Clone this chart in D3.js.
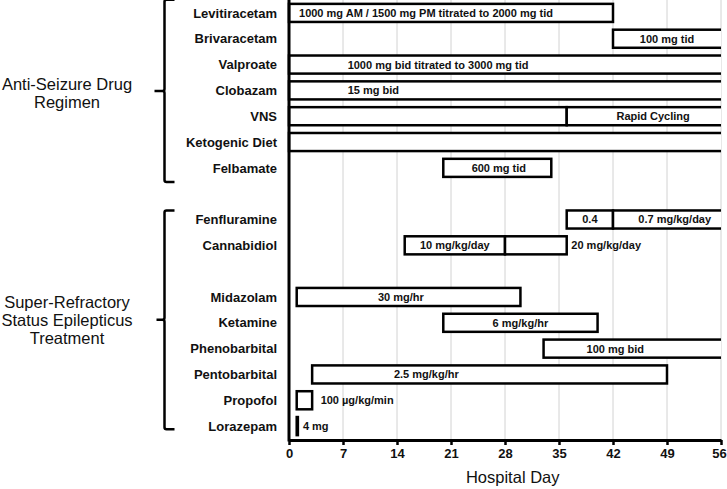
<!DOCTYPE html>
<html>
<head>
<meta charset="utf-8">
<script src="https://cdn.jsdelivr.net/npm/d3@7"></script>
<style>
  html, body { margin: 0; padding: 0; background: #fff; }
  svg { display: block; font-family: "Liberation Sans", Arial, sans-serif; }
</style>
</head>
<body>
<svg id="chart" width="727" height="489"></svg>
<script>
// ---- Data ----
const rows = ["Levitiracetam", "Brivaracetam", "Valproate", "Clobazam", "VNS", "Ketogenic Diet", "Felbamate",
              "_gap1", "Fenfluramine", "Cannabidiol", "_gap2",
              "Midazolam", "Ketamine", "Phenobarbital", "Pentobarbital", "Propofol", "Lorazepam"];

const segDrug   = ["Levitiracetam", "Brivaracetam", "Valproate", "Clobazam", "VNS", "VNS", "Ketogenic Diet", "Felbamate",
                   "Fenfluramine", "Fenfluramine", "Cannabidiol", "Cannabidiol",
                   "Midazolam", "Ketamine", "Phenobarbital", "Pentobarbital", "Propofol", "Lorazepam"];
const segStart  = [0, 42, 0, 0, 0, 36, 0, 20, 36, 42, 15, 28, 1, 20, 33, 3, 1, 1];
const segEnd    = [42, 56, 56, 56, 36, 56, 56, 34, 42, 56, 28, 36, 30, 40, 56, 49, 3, 1.15];
const segLabel  = ["1000 mg AM / 1500 mg PM titrated to 2000 mg tid", "100 mg tid", "1000 mg bid titrated to 3000 mg tid",
                   "15 mg bid", "", "Rapid Cycling", "", "600 mg tid",
                   "0.4", "0.7 mg/kg/day", "10 mg/kg/day", "20 mg/kg/day",
                   "30 mg/hr", "6 mg/kg/hr", "100 mg bid", "2.5 mg/kg/hr", "100 µg/kg/min", "4 mg"];
const labelDay  = [1.3, 49, 7.6, 7.6, 0, 47.2, 0, 27.2, 39, 50, 21.5, 36.6, 14.5, 30, 42.3, 17.8, 4.1, 1.8];
const labelAnchor = ["start", "middle", "start", "start", "middle", "middle", "middle", "middle",
                     "middle", "middle", "middle", "start", "middle", "middle", "middle", "middle", "start", "start"];
const segFilled = [false, false, false, false, false, false, false, false, false, false, false, false,
                   false, false, false, false, false, true];

const xTicks = [0, 7, 14, 21, 28, 35, 42, 49, 56];
const groupLines = [["Anti-Seizure Drug", "Regimen"], ["Super-Refractory", "Status Epilepticus", "Treatment"]];
const groupFirst = ["Levitiracetam", "Fenfluramine"];
const groupLast  = ["Felbamate", "Lorazepam"];
const xTitle = "Hospital Day";

// ---- Layout ----
const svg = d3.select("#chart");
const margin = { left: 289, top: 0 };
const width = 432, height = 440;
const g = svg.append("g").attr("transform", `translate(${margin.left},${margin.top})`);

const x = d3.scaleLinear().domain([0, 56]).range([0, width]);
const y = d3.scaleBand().domain(rows).range([0, 439]).paddingInner(0.3).paddingOuter(0.15);

// grid
g.append("g").selectAll("line").data(xTicks.filter(d => d > 0)).join("line")
  .attr("x1", d => x(d)).attr("x2", d => x(d))
  .attr("y1", 0).attr("y2", height)
  .attr("stroke", "#d2d2d2").attr("stroke-width", 1);

// clip
svg.append("defs").append("clipPath").attr("id", "clip")
  .append("rect").attr("x", -5).attr("y", -5).attr("width", width + 5).attr("height", height + 10);

const segs = segDrug.map((d, i) => ({
  drug: d, start: segStart[i], end: segEnd[i], label: segLabel[i],
  ld: labelDay[i], anchor: labelAnchor[i], filled: segFilled[i]
}));

const bars = g.append("g").attr("clip-path", "url(#clip)");
bars.selectAll("rect").data(segs).join("rect")
  .attr("x", d => x(d.start))
  .attr("y", d => y(d.drug))
  .attr("width", d => (d.end >= 56 ? x(d.end) + 6 : x(d.end)) - x(d.start))
  .attr("height", y.bandwidth())
  .attr("fill", d => d.filled ? "#000" : "#fff")
  .attr("stroke", "#000")
  .attr("stroke-width", 2.5);

g.append("g").selectAll("text").data(segs.filter(d => d.label)).join("text")
  .attr("x", d => x(d.ld))
  .attr("y", d => y(d.drug) + y.bandwidth() / 2)
  .attr("dy", "0.36em")
  .attr("text-anchor", d => d.anchor)
  .attr("font-size", 11)
  .attr("font-weight", "bold")
  .attr("fill", "#111")
  .text(d => d.label);

// row labels
g.append("g").selectAll("text").data(rows.filter(r => !r.startsWith("_"))).join("text")
  .attr("x", -12)
  .attr("y", d => y(d) + y.bandwidth() / 2)
  .attr("dy", "0.36em")
  .attr("text-anchor", "end")
  .attr("font-size", 13)
  .attr("font-weight", "bold")
  .attr("fill", "#111")
  .text(d => d);

// x axis
const xAxis = g.append("g").attr("transform", `translate(0,${height})`)
  .call(d3.axisBottom(x).tickValues(xTicks).tickSize(5).tickSizeOuter(0).tickPadding(4));
xAxis.select(".domain").attr("stroke", "#000").attr("stroke-width", 3);
xAxis.selectAll(".tick line").attr("stroke", "#000").attr("stroke-width", 2.5);
xAxis.selectAll(".tick text").attr("font-size", 13).attr("font-weight", "bold").attr("fill", "#111")
  .attr("font-family", "'Liberation Sans', Arial, sans-serif")
  .attr("dx", d => d === 56 ? -2 : 0);

// y axis line
g.append("line").attr("x1", 0).attr("x2", 0).attr("y1", 0).attr("y2", height + 1.5)
  .attr("stroke", "#000").attr("stroke-width", 3);

// x title
g.append("text").attr("x", x(29)).attr("y", 483)
  .attr("text-anchor", "middle").attr("font-size", 16.5).attr("fill", "#111")
  .text(xTitle);

// brackets
const bx = 164.5 - margin.left, hook = 10;
const topOff = [-4, 0], botOff = [5, -6], tipLen = [10, 8], textShift = [2.5, 0];
groupLines.forEach((lines, k) => {
  const top = y(groupFirst[k]) + topOff[k];
  const bot = y(groupLast[k]) + y.bandwidth() + botOff[k];
  const mid = (top + bot) / 2;
  const p = d3.path();
  p.moveTo(bx + hook, top);
  p.lineTo(bx + 2, top);
  p.quadraticCurveTo(bx, top, bx, top + 2);
  p.lineTo(bx, mid - 2);
  p.quadraticCurveTo(bx, mid, bx - 2, mid);
  p.lineTo(bx - tipLen[k], mid);
  p.moveTo(bx - 2, mid);
  p.quadraticCurveTo(bx, mid, bx, mid + 2);
  p.lineTo(bx, bot - 2);
  p.quadraticCurveTo(bx, bot, bx + 2, bot);
  p.lineTo(bx + hook, bot);
  g.append("path").attr("d", p.toString()).attr("fill", "none")
    .attr("stroke", "#000").attr("stroke-width", 2.5);
  const lh = 18;
  const t = g.append("text").attr("text-anchor", "middle").attr("font-size", 16.5).attr("fill", "#111");
  lines.forEach((ln, i) => {
    t.append("tspan").attr("x", 67 - margin.left)
      .attr("y", mid + textShift[k] + (i - (lines.length - 1) / 2) * lh)
      .attr("dy", "0.36em").text(ln);
  });
});
</script>
</body>
</html>
